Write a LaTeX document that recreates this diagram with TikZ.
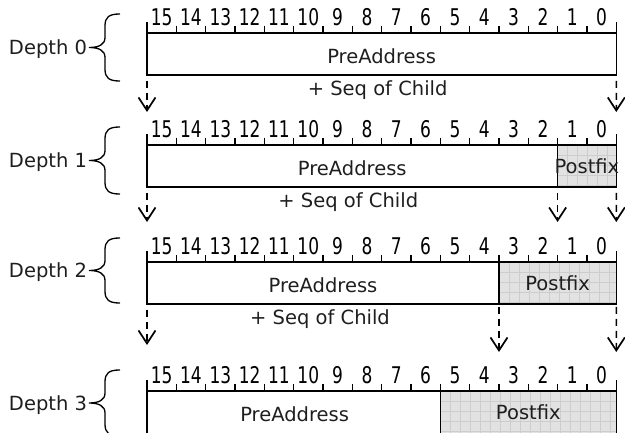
\documentclass[tikz,border=0pt]{standalone}
\usepackage{fontspec}
\setmainfont{DejaVu Sans}
\newfontfamily\digitfont[FakeStretch=0.74]{DejaVu Sans}
\usetikzlibrary{arrows.meta}

\definecolor{postgray}{HTML}{E2E2E2}
\definecolor{gridgray}{HTML}{CDCDCD}
\definecolor{inktext}{HTML}{1E1E1E}

% bit ruler above a field row: #1 = y of the top edge, #2 = name prefix
\newcommand{\bitruler}[2]{%
  \foreach \k in {1,...,15}
    \draw[tickline] (147+\k*29.33,#1-7) -- (147+\k*29.33,#1+1);
  \draw[tickline] (147,#1-11) -- (147,#1);
  \draw[tickline] (616.3,#1-11) -- (616.3,#1);
  \foreach \b in {0,...,15}
    \node[digit] (#2-\b) at (161.67+\b*29.33,#1-7) {\the\numexpr15-\b\relax};
}

% curly brace in front of a row: #1 = top, #2 = bottom
\newcommand{\depthbrace}[2]{%
  \pgfmathsetmacro{\bm}{(#1+#2)/2}%
  \draw[bracestyle] (120,#1) .. controls (109,#1) and (105,#1+3) .. (105,#1+12)
    -- (105,\bm-10) .. controls (105,\bm-3) and (99,\bm) .. (89,\bm)
    .. controls (99,\bm) and (105,\bm+3) .. (105,\bm+10)
    -- (105,#2-12) .. controls (105,#2-3) and (109,#2) .. (120,#2);
}

\begin{document}
\begin{tikzpicture}[x=1pt,y=-1pt,
  every node/.style={inner sep=0pt,outer sep=0pt},
  field/.style={draw=black,line width=1.5pt,minimum height=42pt,anchor=north west},
  postfield/.style={field,fill=postgray,
    path picture={
      \foreach \g in {1,...,20}{
        \draw[gridline] ([xshift=\g*10pt]path picture bounding box.north west)
          -- ([xshift=\g*10pt]path picture bounding box.south west);
        \draw[gridline] ([yshift=-\g*10pt]path picture bounding box.north west)
          -- ([yshift=-\g*10pt]path picture bounding box.north east);
      }}},
  gridline/.style={draw=gridgray,line width=0.5pt},
  tickline/.style={draw=black,line width=1.3pt},
  digit/.style={anchor=base,text=black,font=\digitfont\fontsize{23}{26}\selectfont},
  lbl/.style={anchor=base,text=inktext,font=\fontsize{19.5}{22}\selectfont},
  bracestyle/.style={draw=black,line width=1.3pt},
  flow/.style={draw=black,line width=1.4pt,dash pattern=on 7pt off 5pt,
    -{Straight Barb[length=13pt,width=17pt,line width=1.7pt]}}
  ]
\useasboundingbox (0,0) rectangle (625,433);

% ---------------- Depth 0 ----------------
\node[field,minimum width=469.3pt] (pre0) at (147,33) {};
\bitruler{33}{r0}
\node[lbl] (pre0t) at ([yshift=-9.5pt]pre0.center) {PreAddress};
\node[lbl] (seq0) at ([xshift=-4pt,yshift=-21pt]pre0.south) {+ Seq of Child};
\depthbrace{14}{81}
\node[lbl,anchor=base east] (d0) at (87,54.5) {Depth 0};

% ---------------- Depth 1 ----------------
\node[field,minimum width=410.6pt] (pre1) at (147,145) {};
\node[postfield,minimum width=58.7pt] (post1) at (557.6,145) {};
\bitruler{145}{r1}
\node[lbl] (pre1t) at ([yshift=-9.5pt]pre1.center) {PreAddress};
\node[lbl] (post1t) at ([yshift=-7.5pt]post1.center) {Postfix};
\node[lbl] (seq1) at ([xshift=-4pt,yshift=-21pt]pre1.south) {+ Seq of Child};
\depthbrace{127}{194}
\node[lbl,anchor=base east] (d1) at (87,167.5) {Depth 1};

% ---------------- Depth 2 ----------------
\node[field,minimum width=352pt] (pre2) at (147,262) {};
\node[postfield,minimum width=117.3pt] (post2) at (499,262) {};
\bitruler{262}{r2}
\node[lbl] (pre2t) at ([yshift=-9.5pt]pre2.center) {PreAddress};
\node[lbl] (post2t) at ([yshift=-7.5pt]post2.center) {Postfix};
\node[lbl] (seq2) at ([xshift=-3pt,yshift=-21pt]pre2.south) {+ Seq of Child};
\depthbrace{238}{303}
\node[lbl,anchor=base east] (d2) at (87,277.5) {Depth 2};

% ---------------- Depth 3 ----------------
\node[field,minimum width=293.3pt,minimum height=46pt] (pre3) at (147,391) {};
\node[postfield,minimum width=176pt,minimum height=46pt] (post3) at (440.3,391) {};
\bitruler{391}{r3}
\node[lbl] (pre3t) at ([yshift=-30.5pt,xshift=1pt]pre3.north) {PreAddress};
\node[lbl] (post3t) at ([yshift=-28.5pt]post3.north) {Postfix};
\depthbrace{370}{436}
\node[lbl,anchor=base east] (d3) at (87,410) {Depth 3};

% ---------------- descent arrows ----------------
\coordinate (e0l) at (147,112);
\coordinate (e0r) at (616.3,112);
\draw[flow] ([yshift=-6pt]pre0.south west) -- (e0l);
\draw[flow] ([yshift=-6pt]pre0.south east) -- (e0r);

\coordinate (e1l) at (147,222);
\coordinate (e1m) at (557.6,222);
\coordinate (e1r) at (616.3,222);
\draw[flow] ([yshift=-6pt]pre1.south west) -- (e1l);
\draw[flow] ([yshift=-6pt]post1.south west) -- (e1m);
\draw[flow] ([yshift=-6pt]post1.south east) -- (e1r);

\coordinate (e2l) at (147,345);
\coordinate (e2m) at (499,352);
\coordinate (e2r) at (616.3,352);
\draw[flow] ([yshift=-6pt]pre2.south west) -- (e2l);
\draw[flow] ([yshift=-3pt]post2.south west) -- (e2m);
\draw[flow] ([yshift=-3pt]post2.south east) -- (e2r);
\end{tikzpicture}
\end{document}
